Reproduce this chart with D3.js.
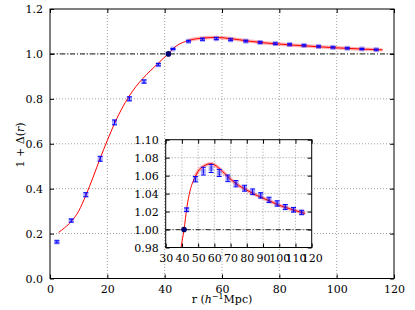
<!DOCTYPE html>
<html lang="en">
<head>
    <meta charset="UTF-8">
    <title>1 + Delta(r)</title>
    <script src="https://d3js.org/d3.v7.min.js"></script>
    <style>
        body { margin: 0; background: #fff; }
        svg { font-family: "DejaVu Serif", serif; }
    </style>
</head>
<body>
    <svg width="415" height="310"></svg>
    <script>
// measured points (r in h^-1 Mpc), value 1 + Delta(r), error
const pointR   = [2.4, 7.4, 12.5, 17.5, 22.5, 27.7, 32.8, 37.8, 42.9, 48.3, 53.2, 58.0,
                  63.0, 68.3, 73.3, 78.6, 83.6, 88.6, 93.7, 98.7, 103.7, 108.8, 113.8];
const pointVal = [0.163, 0.258, 0.373, 0.533, 0.695, 0.800, 0.877, 0.952, 1.022, 1.056,
                  1.065, 1.068, 1.063, 1.057, 1.051, 1.046, 1.042, 1.038, 1.033, 1.029,
                  1.025, 1.022, 1.019];
const pointErr = [0.005, 0.007, 0.009, 0.011, 0.011, 0.009, 0.007, 0.005, 0.002, 0.003,
                  0.0043, 0.0045, 0.004, 0.0037, 0.0035, 0.0033, 0.0032, 0.003, 0.003,
                  0.003, 0.0028, 0.0026, 0.0025];

// model curve
const curveR   = [3, 5, 7.5, 10, 12.5, 15, 17.5, 20, 22.5, 25, 27.5, 30, 32.5, 35, 37.5,
                  40, 41.3, 43, 45, 48, 50, 53, 56, 58, 60, 63, 66, 70, 75, 80, 85, 90,
                  95, 100, 105, 110, 116];
const curveVal = [0.205, 0.225, 0.255, 0.300, 0.370, 0.450, 0.535, 0.615, 0.690, 0.755,
                  0.810, 0.855, 0.892, 0.925, 0.955, 0.986, 1.000, 1.024, 1.043, 1.058,
                  1.065, 1.070, 1.0728, 1.0733, 1.072, 1.068, 1.063, 1.056, 1.049, 1.044,
                  1.039, 1.035, 1.031, 1.027, 1.024, 1.021, 1.018];

// reference point where the curve crosses 1
const zeroPoint = { r: 41.3, v: 1.0 };

const mainXTicks  = [0, 20, 40, 60, 80, 100, 120];
const mainYTicks  = [0.0, 0.2, 0.4, 0.6, 0.8, 1.0, 1.2];
const insetXTicks = [30, 40, 50, 60, 70, 80, 90, 100, 110, 120];
const insetYTicks = [0.98, 1.00, 1.02, 1.04, 1.06, 1.08, 1.10];

const points = pointR.map((r, i) => ({ r: r, v: pointVal[i], e: pointErr[i] }));
const curve = curveR.map((r, i) => ({ r: r, v: curveVal[i] }));

const svg = d3.select('svg');

function drawPanel(box, xTicks, yTicks, yFmt, id) {
  const x = d3.scaleLinear().domain([xTicks[0], xTicks[xTicks.length - 1]]).range([box.left, box.right]);
  const y = d3.scaleLinear().domain([yTicks[0], yTicks[yTicks.length - 1]]).range([box.bottom, box.top]);
  const w = box.right - box.left, h = box.bottom - box.top;
  const g = svg.append('g');

  g.append('rect')
      .attr('x', box.left).attr('y', box.top)
      .attr('width', w).attr('height', h)
      .attr('fill', '#fff');

  svg.append('clipPath').attr('id', id)
    .append('rect')
      .attr('x', box.left).attr('y', box.top)
      .attr('width', w).attr('height', h);

  // grid
  g.append('g')
    .selectAll('line')
    .data(xTicks.slice(1, -1))
    .join('line')
      .attr('x1', d => x(d)).attr('x2', d => x(d))
      .attr('y1', box.top).attr('y2', box.bottom)
      .attr('stroke', '#888').attr('stroke-width', 0.8)
      .attr('stroke-dasharray', '1,2');
  g.append('g')
    .selectAll('line')
    .data(yTicks.slice(1, -1))
    .join('line')
      .attr('x1', box.left).attr('x2', box.right)
      .attr('y1', d => y(d)).attr('y2', d => y(d))
      .attr('stroke', '#888').attr('stroke-width', 0.8)
      .attr('stroke-dasharray', '1,2');

  const plot = g.append('g').attr('clip-path', `url(#${id})`);

  // line at 1
  plot.append('line')
      .attr('x1', box.left).attr('x2', box.right)
      .attr('y1', y(1)).attr('y2', y(1))
      .attr('stroke', '#444').attr('stroke-width', 1.2)
      .attr('stroke-dasharray', '5,2,1,2');

  const line = d3.line()
      .x(d => x(d.r))
      .y(d => y(d.v))
      .curve(d3.curveMonotoneX);

  plot.append('path')
      .datum(curve.filter(d => d.r >= 48))
      .attr('fill', 'none')
      .attr('stroke', 'red').attr('stroke-opacity', 0.3)
      .attr('stroke-width', 3.5)
      .attr('d', line);

  plot.append('path')
      .datum(curve)
      .attr('fill', 'none')
      .attr('stroke', 'red')
      .attr('stroke-width', 1)
      .attr('d', line);

  // markers
  plot.selectAll('.mk')
    .data(points)
    .join('rect')
      .attr('class', 'mk')
      .attr('x', d => x(d.r) - 2.5).attr('y', d => y(d.v) - 2.5)
      .attr('width', 5).attr('height', 5)
      .attr('fill', 'blue').attr('fill-opacity', 0.35);

  const err = plot.selectAll('.err')
    .data(points)
    .join('g')
      .attr('class', 'err')
      .attr('stroke', 'blue').attr('stroke-width', 1);
  err.append('line')
      .attr('x1', d => x(d.r)).attr('x2', d => x(d.r))
      .attr('y1', d => y(d.v - d.e)).attr('y2', d => y(d.v + d.e));
  err.append('line')
      .attr('x1', d => x(d.r) - 2.5).attr('x2', d => x(d.r) + 2.5)
      .attr('y1', d => y(d.v - d.e)).attr('y2', d => y(d.v - d.e));
  err.append('line')
      .attr('x1', d => x(d.r) - 2.5).attr('x2', d => x(d.r) + 2.5)
      .attr('y1', d => y(d.v + d.e)).attr('y2', d => y(d.v + d.e));

  plot.append('circle')
      .attr('cx', x(zeroPoint.r)).attr('cy', y(zeroPoint.v))
      .attr('r', 2.8)
      .attr('fill', '#000070');

  // frame
  g.append('rect')
      .attr('x', box.left).attr('y', box.top)
      .attr('width', w).attr('height', h)
      .attr('fill', 'none')
      .attr('stroke', '#000').attr('stroke-width', 1);

  // axes, ticks pointing inward
  g.append('g')
      .attr('transform', `translate(0,${box.bottom})`)
      .call(d3.axisBottom(x).tickValues(xTicks).tickSizeInner(-4).tickSizeOuter(0).tickPadding(7).tickFormat(d3.format('d')))
      .call(a => a.select('.domain').remove());
  g.append('g')
      .attr('transform', `translate(0,${box.top})`)
      .call(d3.axisTop(x).tickValues(xTicks).tickSizeInner(-4).tickSizeOuter(0).tickFormat(''))
      .call(a => a.select('.domain').remove());
  g.append('g')
      .attr('transform', `translate(${box.left},0)`)
      .call(d3.axisLeft(y).tickValues(yTicks).tickSizeInner(-4).tickSizeOuter(0).tickPadding(7).tickFormat(d3.format(yFmt)))
      .call(a => a.select('.domain').remove());
  g.append('g')
      .attr('transform', `translate(${box.right},0)`)
      .call(d3.axisRight(y).tickValues(yTicks).tickSizeInner(-4).tickSizeOuter(0).tickFormat(''))
      .call(a => a.select('.domain').remove());

  g.selectAll('.tick text')
      .attr('font-family', '"DejaVu Serif", serif')
      .attr('font-size', 11)
      .attr('fill', '#000');
  g.selectAll('.tick line').attr('stroke', '#000');
}

drawPanel({ left: 50, right: 394, top: 9, bottom: 278.5 }, mainXTicks, mainYTicks, '.1f', 'clipMain');
drawPanel({ left: 165.7, right: 311.7, top: 139.7, bottom: 247.5 }, insetXTicks, insetYTicks, '.2f', 'clipInset');

// axis labels
const xl = svg.append('text')
    .attr('x', 222).attr('y', 303)
    .attr('text-anchor', 'middle')
    .attr('font-size', 11);
xl.append('tspan').text('r  (');
xl.append('tspan').attr('font-style', 'italic').text('h');
xl.append('tspan').attr('font-size', 8).attr('dy', -4).text('−1');
xl.append('tspan').attr('dy', 4).text('Mpc)');

const yl = svg.append('text')
    .attr('transform', 'translate(24,145) rotate(-90)')
    .attr('text-anchor', 'middle')
    .attr('font-size', 11);
yl.append('tspan').text('1 + Δ(');
yl.append('tspan').attr('font-style', 'italic').text('r');
yl.append('tspan').text(')');
    </script>
</body>
</html>
